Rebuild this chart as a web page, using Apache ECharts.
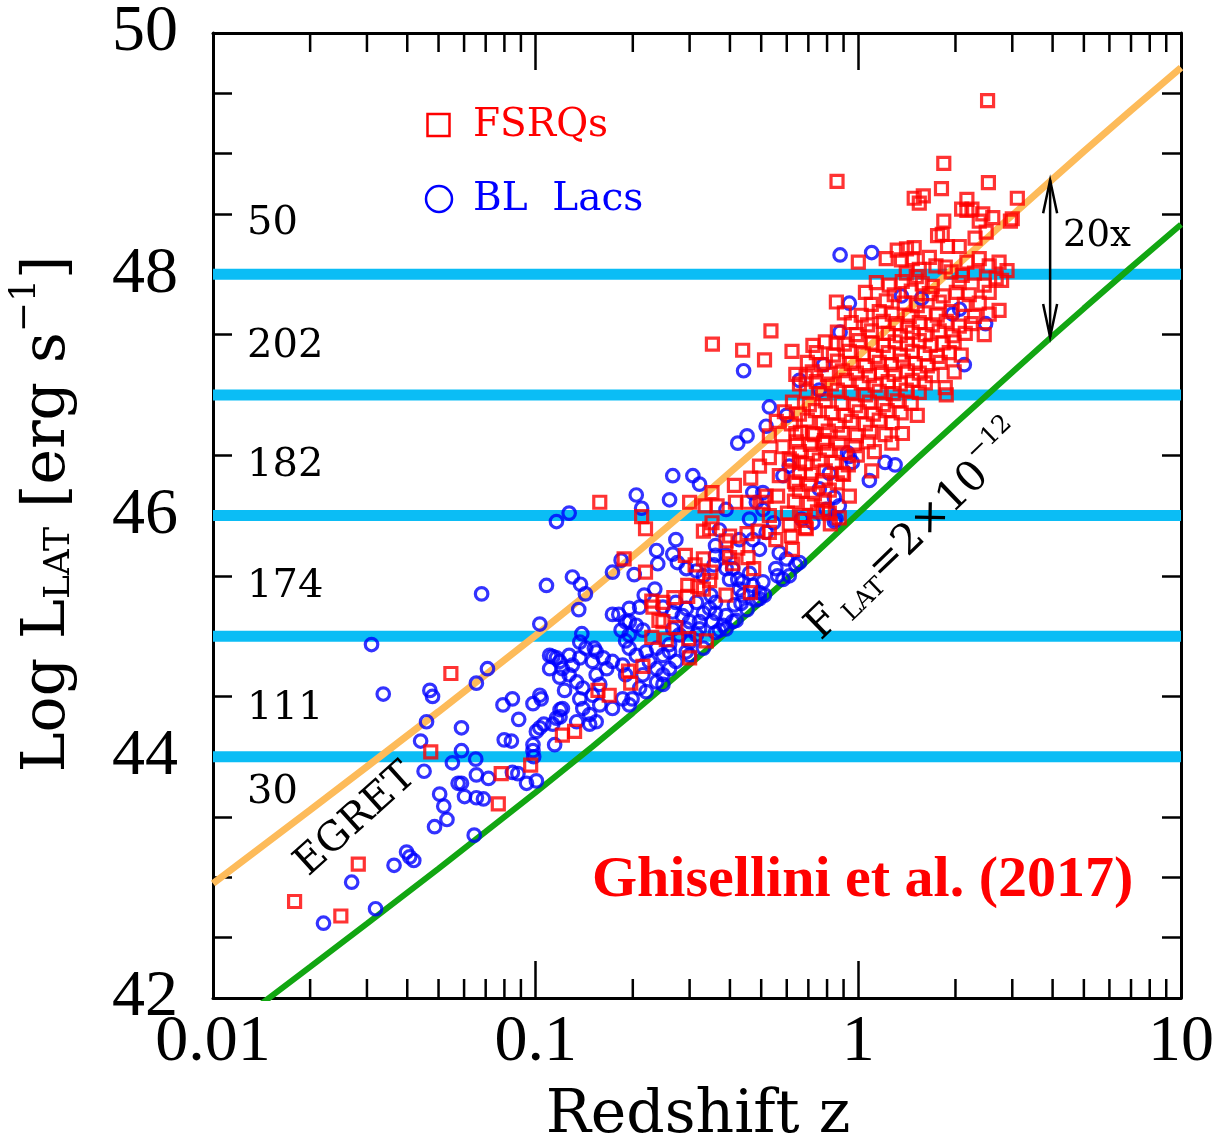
<!DOCTYPE html>
<html><head><meta charset="utf-8">
<script src="https://cdn.jsdelivr.net/npm/echarts@6/dist/echarts.min.js"></script>
<style>html,body{margin:0;padding:0;background:#fff}#c{width:1217px;height:1144px}</style>
</head><body><div id="c"></div>
<script>
// ---------------- data ----------------
const xMajorTicks = [0.01, 0.1, 1, 10];
const xMinorTicks = [0.02,0.03,0.04,0.05,0.06,0.07,0.08,0.09,0.2,0.3,0.4,0.5,0.6,0.7,0.8,0.9,2,3,4,5,6,7,8,9];
const yTickLabels = [42, 44, 46, 48, 50];
const bandLevels = [44, 45, 46, 47, 48];
const bandCounts = ['30', '111', '174', '182', '202', '50'];
const bandCountL = [43.70, 44.40, 45.41, 46.41, 47.40, 48.42];
// flux-limit curve F_LAT = 2e-12 (z, log L)
const fluxLimitCurve = [[0.01,41.648],[0.015,42.005],[0.02,42.258],[0.03,42.617],[0.05,43.073],[0.07,43.379],[0.1,43.705],[0.15,44.084],[0.2,44.362],[0.3,44.762],[0.5,45.283],[0.7,45.631],[1,46.019],[1.5,46.458],[2,46.762],[3,47.188],[4,47.488],[5,47.717],[7,48.057],[10,48.412]];
// EGRET limit (20x higher)
const egretCurve = [[0.01,42.949],[0.015,43.306],[0.02,43.559],[0.03,43.918],[0.05,44.374],[0.07,44.680],[0.1,45.006],[0.15,45.385],[0.2,45.663],[0.3,46.063],[0.5,46.584],[0.7,46.932],[1,47.320],[1.5,47.759],[2,48.063],[3,48.489],[4,48.789],[5,49.018],[7,49.358],[10,49.713]];
const arrowZ = 3.93, arrowTop = 48.78, arrowBottom = 47.48;

const bllacPoints = [
[0.068,45.35],[0.108,45.42],[0.103,45.10],[0.031,44.93],[0.0337,44.52],[0.047,44.55],[0.0479,44.50],[0.0709,44.73],[0.0655,44.61],[0.0459,44.29],[0.044,44.13],[0.0451,43.88],[0.0589,44.24],[0.0589,44.05],[0.0552,43.95],[0.0652,43.98],[0.0655,43.85],[0.0714,43.82],[0.0504,43.69],[0.0519,43.59],[0.0531,43.48],[0.0486,43.42],[0.0575,43.78],[0.0589,43.78],[0.0602,43.67],[0.0655,43.66],[0.0689,43.65],[0.0645,43.35],[0.0792,44.43],[0.0847,44.48],[0.0886,44.31],[0.0981,44.44],[0.104,44.48],[0.0799,44.14],[0.0841,44.13],[0.0847,43.87],[0.0881,43.86],[0.0937,43.78],[0.1005,43.80],[0.0981,44.10],[0.0981,44.05],[0.0986,44.00],[0.103,44.24],[0.113,44.83],[0.1187,44.79],[0.1187,44.66],[0.1229,44.55],[0.119,44.39],[0.119,44.33],[0.1145,44.10],[0.113,44.27],[0.0398,43.21],[0.0407,43.17],[0.0419,43.14],[0.0364,43.10],[0.0269,42.96],[0.0319,42.74],[0.022,42.62],
[0.423,46.60],[0.452,46.66],[0.266,46.33],[0.307,46.33],[0.322,46.26],[0.205,46.17],[0.213,46.06],[0.260,46.13],[0.127,46.02],[0.116,45.95],[0.272,45.80],[0.237,45.71],[0.266,45.68],[0.239,45.60],[0.184,45.63],[0.173,45.53],[0.202,45.51],[0.130,45.49],[0.1377,45.43],[0.1426,45.35],
[0.136,45.22],[0.173,45.18],[0.181,45.18],[0.195,45.12],[0.184,45.05],[0.139,45.02],[0.137,44.95],[0.152,44.90],[0.190,44.96],[0.217,45.34],[0.234,45.39],
[0.275,45.61],[0.293,45.56],[0.315,45.54],[0.331,45.50],[0.361,45.75],[0.361,45.67],[0.357,45.59],[0.389,45.56],[0.399,45.47],[0.423,45.47],[0.439,45.45],[0.460,45.52],[0.506,45.45],[0.494,45.36],[0.512,45.34],[0.433,45.27],[0.413,45.26],[0.349,45.34],[0.361,45.28],[0.346,45.23],[0.331,45.19],[0.361,45.19],[0.389,45.17],[0.408,45.12],[0.381,45.09],[0.353,45.12],[0.322,45.12],[0.300,45.12],[0.285,45.17],[0.266,45.20],[0.293,45.23],[0.315,45.28],[0.272,45.28],[0.248,45.24],[0.210,45.24],[0.195,45.23],[0.190,45.12],[0.205,45.09],[0.215,45.05],[0.195,45.01],[0.195,44.90],[0.205,44.84],[0.220,44.87],[0.237,44.90],[0.248,44.84],[0.260,44.87],[0.272,44.79],[0.260,44.73],[0.248,44.68],[0.237,44.73],[0.225,44.79],[0.215,44.68],[0.210,44.57],[0.220,44.54],[0.199,44.48],[0.190,44.68],[0.186,44.76],[0.173,44.79],[0.166,44.73],[0.154,44.68],[0.158,44.60],[0.150,44.51],[0.140,44.57],[0.134,44.62],[0.127,44.68],[0.121,44.73],[0.116,44.82],[0.1105,44.84],[0.137,44.48],[0.140,44.40],[0.147,44.35],[0.154,44.29],[0.158,44.43],[0.147,44.27],[0.134,44.29],[0.121,44.40],[0.116,44.32],[0.106,44.27],[0.1005,44.21],[0.103,44.51],[0.154,44.87],[0.150,44.79],[0.162,44.82],[0.137,44.82],[0.143,44.90],[0.127,44.84],[0.130,44.76],[0.1105,44.73],[0.186,44.48],[0.195,44.43],[0.173,44.40],[0.248,44.60],[0.237,44.62],[0.260,44.93],[0.293,44.87],[0.300,44.95],[0.315,45.01],[0.279,45.01],[0.266,45.06],[0.293,45.06],[0.322,45.06],[0.361,45.03],[0.389,45.06],[0.418,45.13],[0.452,45.22],[0.483,45.30],[0.439,45.34],[0.428,45.39],[0.555,45.56],[0.562,45.50],[0.584,45.47],[0.611,45.50],[0.640,45.59],[0.657,45.61],[0.494,45.31],[0.371,45.05],[0.331,44.90],[0.300,44.84],
[0.530,46.90],[0.518,46.74],[0.599,46.83],[0.584,46.33],[0.611,46.41],[0.813,46.35],[0.757,46.22],[0.843,46.15],[1.21,46.44],[1.30,46.42],[1.082,46.29],[0.794,46.05],[0.873,46.08],[0.666,45.97],[0.723,45.94],[0.506,46.19],[0.483,46.11],[0.506,46.05],[0.546,45.94],[0.518,45.86],[0.460,45.97],[0.389,46.05],[0.371,45.88],[0.428,45.80],[0.471,45.80],[0.494,45.72],[0.569,45.69],[0.599,45.64],[0.471,45.42],[0.408,45.56],[0.389,45.67],
[0.878,48.16],[1.10,48.18],[0.938,47.76],[1.36,47.82],[1.57,47.80],[0.878,47.52],[0.781,47.25],[0.757,47.04],[0.657,47.12],[0.938,46.49],[0.471,46.19],[0.853,45.97],[2.06,47.71],[2.48,47.59],[2.13,47.25],[1.96,47.67],[0.441,47.20],[0.926,46.52],[0.958,46.44],[0.843,45.95]
];

const fsrqPoints = [
[0.0546,44.69],[0.0473,44.04],[0.0782,43.86],[0.0965,43.93],[0.0766,43.61],[0.121,44.18],[0.132,44.21],[0.0282,43.11],[0.0179,42.80],[0.0249,42.68],
[0.158,46.11],[0.213,45.99],[0.219,45.89],[0.188,45.64],[0.219,45.53],[0.300,46.11],[0.352,46.19],[0.335,46.08],[0.365,46.08],[0.413,46.25],[0.416,46.11],[0.455,46.11],[0.464,46.31],[0.494,46.41],[0.530,46.48],[0.530,46.66],[0.352,45.94],[0.331,45.87],[0.346,45.89],[0.389,45.79],[0.399,45.83],[0.452,45.85],[0.489,45.87],[0.291,45.67],[0.331,45.64],[0.312,45.59],[0.349,45.53],[0.346,45.46],[0.399,45.65],[0.408,45.60],[0.423,45.73],[0.455,45.65],[0.474,45.56],[0.296,45.42],[0.318,45.41],[0.331,45.39],[0.296,45.33],[0.389,45.34],[0.463,45.36],[0.229,45.29],[0.248,45.28],[0.268,45.32],[0.231,45.24],[0.241,45.13],[0.248,45.12],[0.272,45.07],[0.229,44.99],[0.254,44.97],[0.298,44.98],[0.338,44.96],[0.215,44.75],[0.194,44.71],[0.300,44.82],[0.197,44.61],[0.156,44.55],[0.169,44.51],
[0.530,45.86],[0.555,45.80],[0.530,46.00],[0.518,46.16],[0.562,46.16],[0.506,46.11],[0.569,46.33],[0.640,46.26],[0.611,46.47],[0.657,46.44],[0.584,46.57],[0.640,46.68],[0.723,46.68],[0.780,46.60],
[2.515,49.44],[1.84,48.92],[0.859,48.77],[2.53,48.76],[3.11,48.63],[1.49,48.63],[1.59,48.65],[1.545,48.59],[1.81,48.71],[2.17,48.62],[2.09,48.54],[2.17,48.53],[2.25,48.54],[2.43,48.50],[2.61,48.47],[2.37,48.44],[2.96,48.44],[3.00,48.46],[1.84,48.44],[1.76,48.32],[1.82,48.33],[2.30,48.30],[2.49,48.35],[1.89,48.23],[2.055,48.23],[1.00,48.10],[1.22,48.13],[1.32,48.20],[1.41,48.21],[1.49,48.22],[1.36,48.12],[1.47,48.13],[1.66,48.14],[1.74,48.07],[1.86,48.06],[2.17,48.10],[2.37,48.13],[2.73,48.10],[2.78,47.95],[2.73,47.70],
[0.353,47.42],[0.536,47.53],[0.438,47.37],[0.512,47.29],[0.623,47.36],[0.723,47.41],[0.853,47.43],[0.640,47.17],[0.689,47.15],[1.10,46.37],[0.938,46.16],[0.90,46.34],[0.779,46.05],[0.813,46.02],[0.873,45.98],[0.68,45.96],[0.69,45.89],[1.86,47.06],[1.37,46.68],[1.27,46.60],
[1.545,48.04],[2.545,48.07],[2.89,48.03],
[1.408,48.01],[1.512,47.98],[1.94,48.02],[2.10,47.99],[2.29,48.01],[2.675,47.97],
[1.137,47.93],[1.247,47.91],[1.368,47.94],[1.578,47.92],[1.695,47.90],[2.055,47.93],[2.456,47.91],
[1.052,47.85],[1.292,47.83],[1.459,47.86],[1.659,47.84],[1.833,47.82],[2.012,47.85],[2.207,47.83],[2.545,47.85],
[0.855,47.77],[1.097,47.75],[1.221,47.78],[1.388,47.76],[1.523,47.74],[1.781,47.77],[2.13,47.75],[2.370,47.76],
[0.905,47.68],[1.021,47.66],[1.161,47.69],[1.274,47.67],[1.438,47.65],[1.601,47.68],[1.756,47.66],[1.94,47.69],[2.29,47.65],[2.545,47.67],
[0.951,47.60],[1.067,47.58],[1.195,47.61],[1.311,47.59],[1.418,47.57],[1.545,47.60],[1.695,47.58],[1.873,47.61],[2.055,47.57],[2.239,47.59],
[0.861,47.52],[0.986,47.50],[1.097,47.53],[1.238,47.51],[1.349,47.49],[1.469,47.52],[1.613,47.50],[1.781,47.53],[1.954,47.49],[2.145,47.51],[2.456,47.50],
[0.790,47.44],[0.905,47.42],[1.007,47.45],[1.105,47.43],[1.195,47.41],[1.301,47.44],[1.418,47.42],[1.545,47.45],[1.671,47.41],[1.833,47.43],[1.982,47.44],
[0.741,47.35],[0.837,47.33],[0.938,47.36],[1.036,47.34],[1.128,47.32],[1.238,47.35],[1.349,47.33],[1.469,47.36],[1.601,47.34],[1.756,47.32],[1.913,47.35],[2.084,47.33],
[0.695,47.27],[0.768,47.25],[0.861,47.28],[0.951,47.26],[1.052,47.24],[1.161,47.27],[1.265,47.25],[1.378,47.28],[1.501,47.26],[1.636,47.24],[1.794,47.27],
[0.720,47.19],[0.802,47.17],[0.892,47.20],[0.986,47.18],[1.082,47.16],[1.178,47.19],[1.292,47.17],[1.418,47.20],[1.545,47.18],[1.695,47.16],[1.982,47.19],
[0.657,47.09],[0.741,47.11],[0.825,47.09],[0.918,47.12],[1.021,47.10],[1.128,47.08],[1.238,47.11],[1.349,47.09],[1.469,47.12],[1.613,47.10],
[0.690,47.03],[0.774,47.01],[0.861,47.04],[0.951,47.02],[1.052,47.00],[1.161,47.03],[1.283,47.01],[1.408,47.04],[1.545,47.02],[1.873,47.00],
[0.625,46.94],[0.705,46.92],[0.790,46.95],[0.886,46.93],[0.979,46.91],[1.082,46.94],[1.195,46.92],[1.320,46.95],[1.459,46.93],
[0.590,46.86],[0.657,46.84],[0.736,46.87],[0.825,46.85],[0.911,46.83],[1.007,46.86],[1.113,46.84],[1.229,46.87],[1.358,46.85],[1.523,46.83],
[0.557,46.78],[0.620,46.76],[0.695,46.79],[0.774,46.77],[0.861,46.75],[0.951,46.78],[1.052,46.76],[1.161,46.79],[1.274,46.77],
[0.661,46.69],[0.731,46.67],[0.807,46.70],[0.892,46.68],[0.986,46.66],[1.090,46.69],[1.212,46.67],
[0.643,46.61],[0.710,46.59],[0.785,46.62],[0.873,46.60],[0.972,46.58],[1.074,46.61],
[0.657,46.53],[0.726,46.51],[0.802,46.54],[0.892,46.52],[0.993,46.50],[1.121,46.53],
[0.620,46.45],[0.685,46.43],[0.757,46.46],[0.843,46.44],[0.931,46.42],
[0.657,46.36],[0.715,46.34],[0.790,46.37],[0.892,46.35],
[0.634,46.28],[0.705,46.26],[0.774,46.29],[0.861,46.27],
[0.657,46.20],[0.731,46.18],[0.813,46.21],
[0.634,46.12],[0.705,46.10],[0.785,46.13],
[0.603,46.02],[0.671,46.00],[0.747,46.03],
[0.611,45.92],[0.685,45.90],[0.819,45.93],
[0.620,45.83],[0.625,45.72]
];

// ---------------- chart ----------------
const SERIF = 'DejaVu Serif';
const chart = echarts.init(document.getElementById('c'), null, {renderer: 'canvas'});
const axisLineStyle = {color: '#000', width: 3};
const tickStyle = {color: '#000', width: 2.5};
const labelFont = {fontFamily: 'Liberation Serif', fontSize: 66, color: '#000'};

const bandSeries = bandLevels.map(v => ({
  type: 'line', data: [[0.01, v], [10, v]], showSymbol: false, silent: true, z: 1,
  lineStyle: {color: '#0BBDF5', width: 11}, animation: false
}));

const option = {
  animation: false,
  grid: {left: 213, top: 28, width: 969, height: 970, containLabel: false},
  xAxis: [
    {type: 'log', logBase: 10, min: 0.01, max: 10, position: 'bottom',
     axisLine: {lineStyle: axisLineStyle}, splitLine: {show: false},
     axisTick: {show: true, inside: true, length: 37, lineStyle: tickStyle},
     axisLabel: Object.assign({margin: 12, showMinLabel: true, showMaxLabel: true,
       formatter: v => String(+(+v).toPrecision(3))}, labelFont)},
    {type: 'log', logBase: 10, min: 0.01, max: 10, position: 'top',
     axisLine: {lineStyle: axisLineStyle}, splitLine: {show: false},
     axisTick: {show: true, inside: true, length: 37, lineStyle: tickStyle},
     axisLabel: {show: false}}
  ],
  yAxis: [
    {type: 'value', min: 42, max: 50, interval: 2, position: 'left',
     axisLine: {show: true, lineStyle: axisLineStyle}, splitLine: {show: false},
     axisTick: {show: true, inside: true, length: 37, lineStyle: tickStyle},
     minorTick: {show: true, splitNumber: 4, length: 19, lineStyle: tickStyle},
     axisLabel: Object.assign({margin: 35, showMinLabel: true, showMaxLabel: true,
       formatter: v => yTickLabels.indexOf(v) >= 0 ? String(v) : ''}, labelFont)},
    {type: 'value', min: 42, max: 50, interval: 2, position: 'right',
     axisLine: {show: true, lineStyle: axisLineStyle}, splitLine: {show: false},
     axisTick: {show: true, inside: true, length: 37, lineStyle: tickStyle},
     minorTick: {show: true, splitNumber: 4, length: 19, lineStyle: tickStyle},
     axisLabel: {show: false}}
  ],
  series: bandSeries.concat([
    {type: 'line', name: 'EGRET limit', data: egretCurve, showSymbol: false, silent: true, z: 2,
     lineStyle: {color: '#FDBB5A', width: 7}, clip: true},
    {type: 'line', name: 'Flux limit', data: fluxLimitCurve, showSymbol: false, silent: true, z: 2,
     lineStyle: {color: '#12A612', width: 6}, clip: true},
    {type: 'scatter', name: 'BL Lacs', data: bllacPoints, symbol: 'circle', symbolSize: 12.5, z: 3,
     itemStyle: {color: 'rgba(0,0,0,0)', borderColor: '#0000FF', borderWidth: 3.2},
     emphasis: {disabled: true}, silent: true},
    {type: 'scatter', name: 'FSRQs', data: fsrqPoints, symbol: 'rect', symbolSize: 12, z: 4,
     itemStyle: {color: 'rgba(0,0,0,0)', borderColor: '#FF0000', borderWidth: 3.2},
     emphasis: {disabled: true}, silent: true},
    {type: 'custom', name: 'minor x ticks', data: xMinorTicks.map(v => [v, 42]), silent: true, z: 6,
     renderItem: function (params, api) {
       const x = api.coord([api.value(0), 46])[0];
       const cs = params.coordSys;
       return {type: 'group', children: [
         {type: 'line', shape: {x1: x, y1: cs.y + cs.height, x2: x, y2: cs.y + cs.height - 19}, style: {stroke: '#000', lineWidth: 2.5}},
         {type: 'line', shape: {x1: x, y1: cs.y, x2: x, y2: cs.y + 19}, style: {stroke: '#000', lineWidth: 2.5}}
       ]};
     }},
    {type: 'custom', name: 'arrow', data: [[arrowZ, arrowTop, arrowBottom]], silent: true, z: 6,
     encode: {x: 0, y: [1, 2]},
     renderItem: function (params, api) {
       const p1 = api.coord([api.value(0), api.value(1)]);
       const p2 = api.coord([api.value(0), api.value(2)]);
       const hl = 33, hw = 7, st = {stroke: '#000', lineWidth: 2.5, fill: null};
       return {type: 'group', children: [
         {type: 'line', shape: {x1: p1[0], y1: p1[1], x2: p2[0], y2: p2[1]}, style: st},
         {type: 'polyline', shape: {points: [[p1[0] - hw, p1[1] + hl], [p1[0], p1[1]], [p1[0] + hw, p1[1] + hl]]}, style: st},
         {type: 'polyline', shape: {points: [[p2[0] - hw, p2[1] - hl], [p2[0], p2[1]], [p2[0] + hw, p2[1] - hl]]}, style: st}
       ]};
     }}
  ])
};
chart.setOption(option);

// ---------------- annotations ----------------
const mctx = document.createElement('canvas').getContext('2d');
function tw(t, size, fam, weight) { mctx.font = (weight ? weight + ' ' : '') + size + 'px "' + fam + '"'; return mctx.measureText(t).width; }
function txt(t, x, y, size, fam, color, align, weight) {
  return {type: 'text', x: x, y: y, silent: true, z: 100,
    style: {text: t, font: (weight ? weight + ' ' : '') + size + 'px "' + fam + '"', fill: color || '#000',
      textAlign: align || 'left', textVerticalAlign: 'middle', align: align || 'left', verticalAlign: 'middle'}};
}
function richGroup(parts, cx, cy, rotDeg, fam) {
  let w = 0;
  parts.forEach(p => { p.w = tw(p.t, p.size, fam) + (p.gap || 0); w += p.w; });
  let x = -w / 2;
  const children = [];
  parts.forEach(p => { children.push(txt(p.t, x, p.dy || 0, p.size, fam, p.color)); x += p.w; });
  return {type: 'group', x: cx, y: cy, rotation: rotDeg * Math.PI / 180, silent: true, z: 100, children: children};
}

const g = [];
// band counts
bandCounts.forEach((c, i) => {
  const py = chart.convertToPixel({yAxisIndex: 0}, bandCountL[i]);
  g.push(txt(c, 247, py, 40, SERIF, '#000', 'left'));
});
// legend
g.push({type: 'rect', shape: {x: 427.5, y: 114, width: 22, height: 22}, style: {fill: null, stroke: '#FF0000', lineWidth: 2.5}, z: 100});
g.push(txt('FSRQs', 473, 126, 39, SERIF, '#FF0000'));
g.push({type: 'circle', shape: {cx: 439, cy: 199, r: 13}, style: {fill: null, stroke: '#0000FF', lineWidth: 2.5}, z: 100});
g.push(txt('BL  Lacs', 473, 200, 39, SERIF, '#0000FF'));
// 20x
g.push(txt('20x', 1063, 236, 37, SERIF, '#000'));
// Ghisellini
g.push(txt('Ghisellini et al. (2017)', 592, 881, 58, 'Liberation Serif', '#FF0000', 'left', 'bold'));
// x title
g.push(txt('Redshift z', 698, 1116, 60, SERIF, '#000', 'center'));
// y title
g.push(richGroup([
  {t: 'Log L', size: 60},
  {t: 'LAT', size: 36, dy: 12},
  {t: ' [erg s', size: 60},
  {t: '\u22121', size: 36, dy: -22},
  {t: ']', size: 60}
], 48, 514, 90, SERIF));
// EGRET
g.push(richGroup([{t: 'EGRET', size: 40}], 356, 820, 42, SERIF));
// F_LAT label
g.push(richGroup([
  {t: 'F', size: 42, gap: 6},
  {t: 'LAT', size: 25, dy: 12},
  {t: '=2\u00d710', size: 42},
  {t: '\u221212', size: 25, dy: -18}
], 917, 533, 44, SERIF));

chart.setOption({graphic: {elements: g}});
</script>
</body></html>
